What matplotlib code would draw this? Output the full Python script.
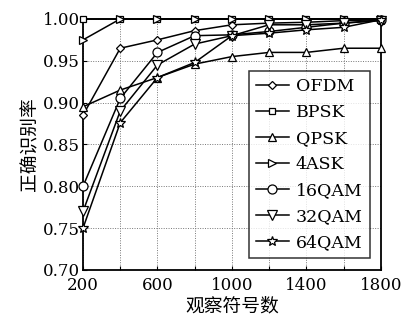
import matplotlib
matplotlib.use("Agg")
import matplotlib.pyplot as plt
from matplotlib.ticker import MultipleLocator

# ── Data ───────────────────────────────────────────────────────────────────────
symbols = [200, 400, 600, 800, 1000, 1200, 1400, 1600, 1800]
ofdm   = [0.885, 0.965, 0.975, 0.986, 0.993, 0.995, 0.996, 0.998, 0.999]
bpsk   = [1.000, 1.000, 1.000, 1.000, 1.000, 1.000, 1.000, 1.000, 1.000]
qpsk   = [0.895, 0.915, 0.930, 0.946, 0.955, 0.960, 0.960, 0.965, 0.965]
ask4   = [0.975, 1.000, 1.000, 1.000, 1.000, 1.000, 1.000, 1.000, 1.000]
qam16  = [0.800, 0.905, 0.960, 0.980, 0.981, 0.985, 0.990, 0.995, 0.999]
qam32  = [0.770, 0.890, 0.945, 0.970, 0.980, 0.993, 0.993, 0.995, 0.998]
qam64  = [0.750, 0.876, 0.930, 0.948, 0.980, 0.983, 0.987, 0.990, 0.999]

labels  = ["OFDM", "BPSK", "QPSK", "4ASK", "16QAM", "32QAM", "64QAM"]
series  = [ofdm, bpsk, qpsk, ask4, qam16, qam32, qam64]
markers = ["D", "s", "^", ">", "o", "v", "*"]
msizes  = [4.5, 5, 6, 6, 6.5, 7, 7]

xticks = [200, 600, 1000, 1400, 1800]

# ── Figure ─────────────────────────────────────────────────────────────────────
fig = plt.figure(figsize=(4.03, 3.21), dpi=100)
ax = fig.add_axes([0.206, 0.159, 0.739, 0.782])

for ys, lab, mk, ms in zip(series, labels, markers, msizes):
    ax.plot(symbols, ys, color="black", linewidth=1.1, marker=mk, markersize=ms,
            markerfacecolor="white", markeredgecolor="black",
            markeredgewidth=0.9, label=lab, clip_on=False, zorder=3)

ax.set_xlim(200, 1800)
ax.set_ylim(0.70, 1.00)
ax.set_xticks(xticks)
ax.xaxis.set_minor_locator(MultipleLocator(200))
ax.yaxis.set_major_locator(MultipleLocator(0.05))
ax.yaxis.set_major_formatter(plt.FuncFormatter(lambda v, _: f"{v:.2f}"))
ax.grid(which="both", color="#777777", linestyle=(0, (1, 1.5)), linewidth=0.7)
ax.tick_params(which="both", direction="in", length=3, width=0.8)
ax.tick_params(axis="y", labelsize=12, pad=2)
ax.tick_params(axis="x", labelsize=12, pad=5)
for lab in ax.get_xticklabels() + ax.get_yticklabels():
    lab.set_family("DejaVu Serif")
for sp in ax.spines.values():
    sp.set_linewidth(1.3)

ax.set_xlabel("观察符号数", family=["Noto Sans CJK SC"], fontsize=13.5, labelpad=1)
ax.set_ylabel("正确识别率", family=["Noto Sans CJK SC"], fontsize=13.5, labelpad=2)

leg = ax.legend(loc="lower right", bbox_to_anchor=(0.963, 0.048),
                prop={"family": "DejaVu Serif", "size": 12.5},
                frameon=True, fancybox=False, edgecolor="black",
                handlelength=1.9, handletextpad=0.4, labelspacing=0.52,
                borderpad=0.4, borderaxespad=0)
leg.get_frame().set_linewidth(1.1)
leg.set_zorder(5)

fig.savefig("out.png", dpi=100)
